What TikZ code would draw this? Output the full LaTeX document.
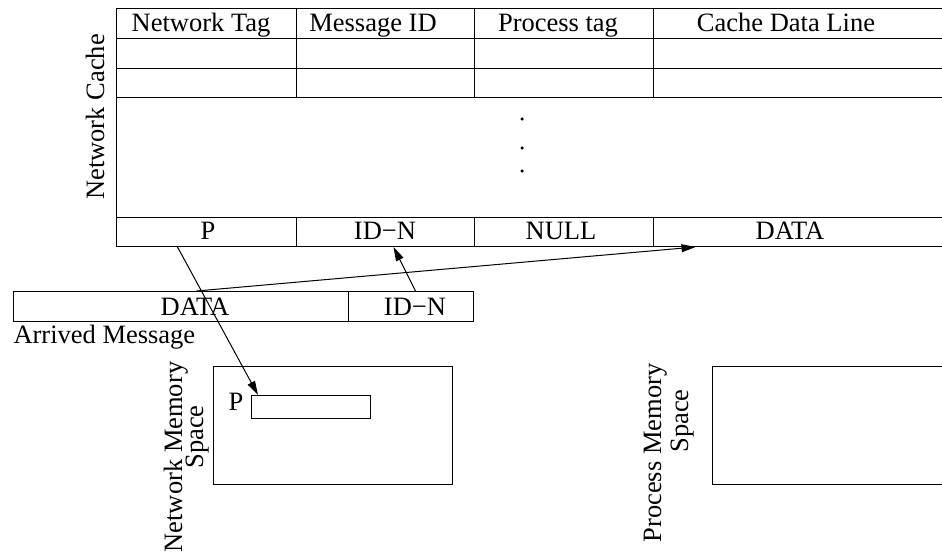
\documentclass[tikz,border=0pt]{standalone}
\usepackage{fontspec}
\setmainfont{Liberation Serif}
\usetikzlibrary{arrows.meta}
\begin{document}
\begin{tikzpicture}[x=1pt,y=-1pt,line width=1pt,
  cellbox/.style={draw, rectangle, inner sep=0pt, anchor=north west},
  lbl/.style={inner sep=0pt, anchor=base, font=\fontsize{26.5}{30}\selectfont},
  vlbl/.style={lbl, rotate=90},
  arr/.style={-{Triangle[length=14pt,width=8pt]}},
  dot/.style={circle, fill, inner sep=0pt, minimum size=3.5pt}]
\useasboundingbox (0,0) rectangle (942,553);
% network cache table
\node[cellbox, minimum width=180pt, minimum height=30pt] (h1) at (116,8) {};
\node[cellbox, minimum width=178pt, minimum height=30pt] (h2) at (296,8) {};
\node[cellbox, minimum width=179pt, minimum height=30pt] (h3) at (474,8) {};
\node[cellbox, minimum width=300pt, minimum height=30pt] (h4) at (653,8) {};
\node[cellbox, minimum width=180pt, minimum height=30pt] (r1a) at (116,38) {};
\node[cellbox, minimum width=178pt, minimum height=30pt] (r1b) at (296,38) {};
\node[cellbox, minimum width=179pt, minimum height=30pt] (r1c) at (474,38) {};
\node[cellbox, minimum width=300pt, minimum height=30pt] (r1d) at (653,38) {};
\node[cellbox, minimum width=180pt, minimum height=29pt] (r2a) at (116,68) {};
\node[cellbox, minimum width=178pt, minimum height=29pt] (r2b) at (296,68) {};
\node[cellbox, minimum width=179pt, minimum height=29pt] (r2c) at (474,68) {};
\node[cellbox, minimum width=300pt, minimum height=29pt] (r2d) at (653,68) {};
\node[cellbox, minimum width=837pt, minimum height=120pt] (gap) at (116,97) {};
\node[cellbox, minimum width=180pt, minimum height=29pt] (pcell) at (116,217) {};
\node[cellbox, minimum width=178pt, minimum height=29pt] (idcell) at (296,217) {};
\node[cellbox, minimum width=179pt, minimum height=29pt] (nullcell) at (474,217) {};
\node[cellbox, minimum width=300pt, minimum height=29pt] (datacell) at (653,217) {};
% header texts
\node[lbl] (t1) at (201,32) {Network Tag};
\node[lbl] (t2) at (373,32) {Message ID};
\node[lbl] (t3) at (558,32) {Process tag};
\node[lbl] (t4) at (786,32) {Cache Data Line};
% dots
\node[dot] (d1) at (522,119) {};
\node[dot] (d2) at (522,148) {};
\node[dot] (d3) at (522,171) {};
% bottom row texts
\node[lbl] (b1) at (208,240) {P};
\node[lbl] (b2) at (385,240) {ID−N};
\node[lbl] (b3) at (561,240) {NULL};
\node[lbl] (b4) at (790,240) {DATA};
\node[vlbl] (nc) at (104,117) {Network Cache};
% arrived message
\node[cellbox, minimum width=335pt, minimum height=30pt] (adata) at (13,291) {};
\node[cellbox, minimum width=125pt, minimum height=30pt] (aid) at (348,291) {};
\node[lbl] (ad) at (195,315) {DATA};
\node[lbl] (ai) at (415,315) {ID−N};
\node[lbl, anchor=base west] (am) at (13,343) {Arrived Message};
% network memory space
\node[cellbox, minimum width=239pt, minimum height=118pt] (nms) at (213,366) {};
\node[cellbox, minimum width=119pt, minimum height=23pt] (inner) at (251,395) {};
\node[lbl, anchor=base west] (pl) at (228,410) {P};
\node[vlbl] (nm1) at (182,457) {Network Memory};
\node[vlbl] (nm2) at (203,437) {Space};
% process memory space
\node[cellbox, minimum width=260pt, minimum height=118pt] (pms) at (712,366) {};
\node[vlbl] (pm1) at (661,453) {Process Memory};
\node[vlbl] (pm2) at (688,421) {Space};
% connectors
\draw[arr] ([xshift=-29pt]pcell.south) -- ([xshift=7pt]inner.north west);
\draw[arr] ([xshift=15.5pt]adata.north) -- ([xshift=-108pt]datacell.south);
\draw[arr] ([xshift=4.5pt]aid.north) -- ([xshift=8pt]idcell.south);
\end{tikzpicture}
\end{document}
